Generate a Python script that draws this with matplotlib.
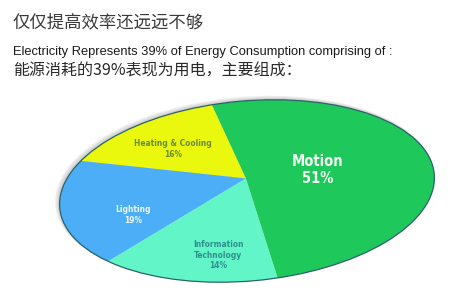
import matplotlib
matplotlib.use('Agg')
import matplotlib.pyplot as plt
import matplotlib.transforms as mtransforms
from matplotlib.patches import Ellipse
from matplotlib import font_manager
import numpy as np

# data
labels = ['Motion', 'Heating & Cooling', 'Lighting', 'Information\nTechnology']
shares = [51, 16, 19, 14]
colors = ['#1fc85a', '#eaf80e', '#4caef6', '#62f5c8']
label_colors = ['#f2fff2', '#6b8a2a', '#eef6ff', '#2f8f8c']

title = u'仅仅提高效率还远远不够'
subtitle_en = 'Electricity Represents 39% of Energy Consumption comprising of :'
subtitle_cn = u'能源消耗的39%表现为用电，主要组成：'

cjk = ['Noto Sans CJK SC', 'DejaVu Sans']


class Tilt(mtransforms.Transform):
    """projective map of the unit disk onto itself, moves the centre up by k
    (gives the pie a bit of perspective)"""
    input_dims = 2
    output_dims = 2
    is_separable = False
    has_inverse = False

    def __init__(self, k):
        mtransforms.Transform.__init__(self)
        self.k = k

    def transform_non_affine(self, xy):
        xy = np.asarray(xy, dtype=float)
        k = self.k
        d = 1 + k * xy[:, 1]
        return np.column_stack([xy[:, 0] * np.sqrt(1 - k * k) / d,
                                (xy[:, 1] + k) / d])


fig = plt.figure(figsize=(4.5, 3.03), dpi=100)
ax = fig.add_axes([0, 0, 1, 1])

# ellipse geometry in pixel coords (y up)
cx, cy = 247, 303 - 191
a, b, tilt = 188, 90, 5.2
squash = mtransforms.Affine2D().scale(a, b).rotate_deg(tilt).translate(cx, cy)

# soft shadow towards upper left
for i, al in enumerate([0.10, 0.10, 0.12]):
    sh = Ellipse((0, 0), 2.0, 2.0, facecolor='#555555', edgecolor='none', alpha=al)
    sh.set_transform(mtransforms.Affine2D().scale(a + 1.5 - i * 0.5, b + 1.5 - i * 0.5)
                     .rotate_deg(tilt).translate(cx - 3 + i, cy + 2.5 - i * 0.8) + ax.transData)
    ax.add_patch(sh)

wedges, _ = ax.pie(shares, colors=colors, startangle=-84, counterclock=True,
                   radius=1, center=(0, 0),
                   wedgeprops=dict(linewidth=0, edgecolor='none'))
for w in wedges:
    w.set_transform(Tilt(0.14) + squash + ax.transData)

rim = Ellipse((0, 0), 2.0, 2.0, facecolor='none', edgecolor='#2b6468', linewidth=0.9)
rim.set_transform(squash + ax.transData)
ax.add_patch(rim)

ax.set_xlim(0, 450)
ax.set_ylim(0, 303)
ax.set_aspect('auto')
ax.axis('off')

# condensed bold face for the slice labels
narrow = font_manager.FontProperties(family='DejaVu Sans', stretch='condensed', weight='bold')

pos = [(318, 170), (173, 149), (133, 215), (218, 255)]
sizes = [10.5, 6.0, 6.0, 6.0]
for lab, s, (x, y), c, fs in zip(labels, shares, pos, label_colors, sizes):
    fp = narrow.copy()
    fp.set_size(fs)
    ax.text(x, 303 - y, '%s\n%d%%' % (lab, s), ha='center', va='center',
            color=c, linespacing=1.15, fontproperties=fp)

fig.text(13 / 450., 1 - 22 / 303., title, ha='left', va='center', fontsize=12.5,
         color='#3a3a3a', family=cjk)
fig.text(13 / 450., 1 - 52 / 303., subtitle_en, ha='left', va='center', fontsize=9.3,
         color='#1a1a1a', family=['Liberation Sans', 'DejaVu Sans'])
fig.text(13 / 450., 1 - 71 / 303., subtitle_cn, ha='left', va='center', fontsize=11.5,
         color='#2a2a2a', family=cjk)

fig.savefig('out.png', dpi=100, facecolor='white')
